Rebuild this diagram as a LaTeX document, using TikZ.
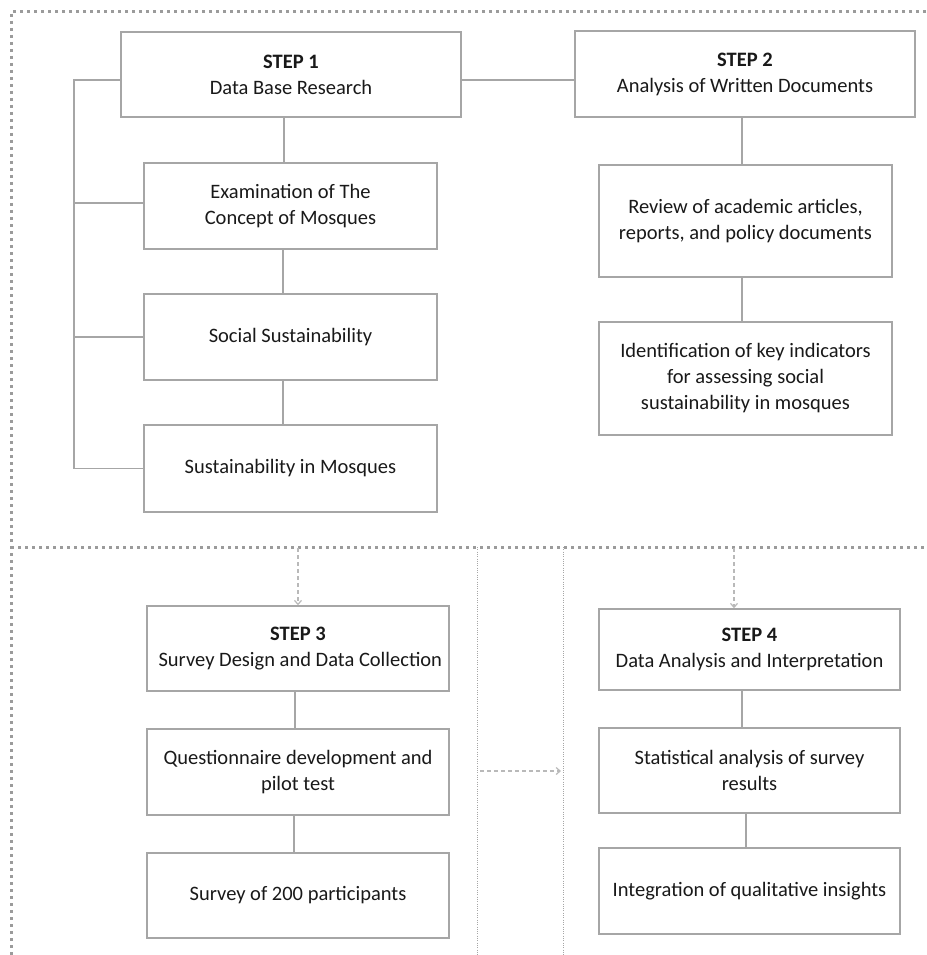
\documentclass[tikz,border=0pt]{standalone}
\usepackage{fontspec}
\setmainfont{Carlito}
\usetikzlibrary{arrows.meta}
\definecolor{lgray}{RGB}{166,166,166}
\definecolor{fgray}{RGB}{155,155,155}
\definecolor{dgray}{RGB}{185,185,185}
\definecolor{txt}{RGB}{25,25,25}
\begin{document}
\begin{tikzpicture}[x=1pt,y=-1pt,
  box/.style={draw=lgray, line width=1.5pt, align=center, inner sep=0pt, fill=white,
    font=\fontsize{20.5}{26}\selectfont, text=txt},
  conn/.style={draw=lgray, line width=1.5pt},
  bigdot/.style={draw=fgray, line width=3pt, dash pattern=on 3pt off 4pt},
  thindot/.style={draw=lgray, line width=0.9pt, dash pattern=on 1pt off 1.3pt},
  darr/.style={draw=dgray, line width=1.2pt, dash pattern=on 4pt off 3pt,
    -{Straight Barb[length=4pt,width=7pt]}}]
\useasboundingbox (0,0) rectangle (926,955);

% dotted frame
\draw[bigdot] (926,12) -- (11,12) -- (11,955);
\draw[bigdot] (11,547) -- (926,547);
\draw[thindot] (477,547) -- (477,955);
\draw[thindot] (563,547) -- (563,955);

% top section
\node[box, minimum width=340pt, minimum height=85pt] (s1) at (291,74.5) {\textbf{STEP 1}\\Data Base Research};
\node[box, minimum width=340pt, minimum height=86pt] (s2) at (745,74) {\textbf{STEP 2}\\Analysis of Written Documents};
\node[box, minimum width=293pt, minimum height=86pt] (exam) at (290.5,206) {Examination of The\\Concept of Mosques};
\node[box, minimum width=293pt, minimum height=86pt] (soc) at (290.5,337) {Social Sustainability};
\node[box, minimum width=293pt, minimum height=87pt] (sus) at (290.5,468.5) {Sustainability in Mosques};
\node[box, minimum width=293pt, minimum height=112pt] (rev) at (745.5,221) {Review of academic articles,\\reports, and policy documents};
\node[box, minimum width=293pt, minimum height=113pt] (idn) at (745.5,378.5) {Identification of key indicators\\for assessing social\\sustainability in mosques};

\draw[conn] (s1.east |- 0,80) -- (s2.west |- 0,80);
\draw[conn] (s1.south -| 284,0) -- (exam.north -| 284,0);
\draw[conn] (exam.south -| 283,0) -- (soc.north -| 283,0);
\draw[conn] (soc.south -| 283,0) -- (sus.north -| 283,0);
\draw[conn] (s2.south -| 742,0) -- (rev.north -| 742,0);
\draw[conn] (rev.south -| 742,0) -- (idn.north -| 742,0);

\coordinate (bk) at (74,80);
\draw[conn] (s1.west |- bk) -- (bk) |- (sus.west);
\draw[conn] (bk |- 0,203) -- (exam.west |- 0,203);
\draw[conn] (bk |- soc.west) -- (soc.west);

% bottom section
\node[box, minimum width=302pt, minimum height=85pt] (s3) at (298,648.5) {\textbf{STEP 3}\\\ Survey Design and Data Collection};
\node[box, minimum width=302pt, minimum height=86pt] (que) at (298,772) {Questionnaire development and\\pilot test};
\node[box, minimum width=302pt, minimum height=85pt] (svy) at (298,895.5) {Survey of 200 participants};
\node[box, minimum width=301pt, minimum height=81pt] (s4) at (749.5,649.5) {\textbf{STEP 4}\\Data Analysis and Interpretation};
\node[box, minimum width=301pt, minimum height=85pt] (sta) at (749.5,770.5) {Statistical analysis of survey\\results};
\node[box, minimum width=301pt, minimum height=86pt] (int) at (749.5,891) {Integration of qualitative insights};

\draw[conn] (s3.south -| 295,0) -- (que.north -| 295,0);
\draw[conn] (que.south -| 294,0) -- (svy.north -| 294,0);
\draw[conn] (s4.south -| 742,0) -- (sta.north -| 742,0);
\draw[conn] (sta.south -| 746,0) -- (int.north -| 746,0);

\coordinate (a3) at (298,548);
\coordinate (a4) at (734,548);
\coordinate (h1) at (480,771);
\coordinate (h2) at (561,771);
\draw[darr] (a3) -- (s3.north -| a3);
\draw[darr] (a4) -- (s4.north -| a4);
\draw[darr] (h1) -- (h2);
\end{tikzpicture}
\end{document}
